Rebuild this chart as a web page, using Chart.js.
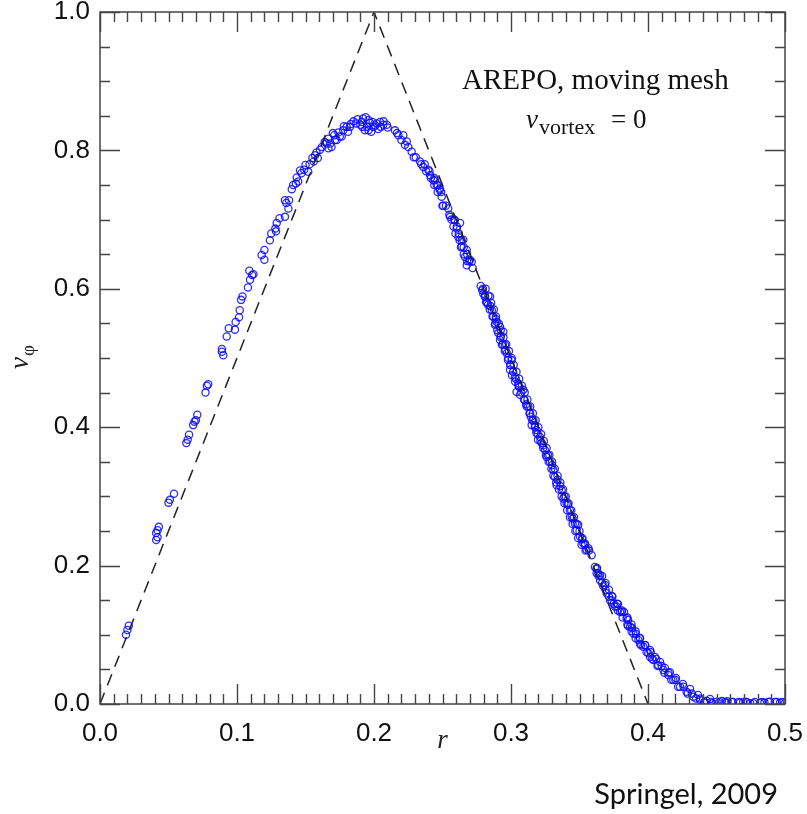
<!DOCTYPE html>
<html>
<head>
<meta charset="utf-8">
<script src="https://cdn.jsdelivr.net/npm/chart.js@4/dist/chart.umd.min.js"></script>
<style>
  html, body { margin: 0; padding: 0; background: #ffffff; }
  #wrap { position: relative; width: 807px; height: 814px; }
  #credit {
    position: absolute; right: 29px; top: 775px;
    font-family: Lato, "Open Sans", sans-serif; font-size: 29px; color: #111;
  }
</style>
</head>
<body>
<div id="wrap">
  <canvas id="vortex-chart" width="807" height="814"></canvas>
  <div id="credit">Springel, 2009</div>
</div>
<script>
// r, v_phi pairs
const risePts = [
  [0.019,0.100],[0.021,0.113],[0.020,0.107],[0.041,0.237],[0.043,0.256],[0.041,0.247],[0.042,0.241],[0.042,0.251],
  [0.050,0.291],[0.054,0.304],[0.051,0.295],[0.063,0.377],[0.065,0.389],[0.064,0.382],[0.068,0.403],[0.071,0.418],
  [0.070,0.410],[0.069,0.408],[0.077,0.450],[0.079,0.462],[0.078,0.460],[0.089,0.513],[0.090,0.504],[0.089,0.509],
  [0.0925,0.531],[0.094,0.543],[0.0985,0.541],[0.099,0.552],[0.1015,0.559],[0.102,0.569],[0.103,0.584],[0.104,0.589],
  [0.108,0.602],[0.1095,0.613],[0.109,0.626],[0.112,0.621],[0.111,0.620],[0.118,0.649],[0.120,0.642],[0.120,0.656],
  [0.124,0.670],[0.125,0.680],[0.128,0.687],[0.129,0.695],[0.131,0.702],[0.135,0.704],[0.1285,0.683],[0.136,0.724],
  [0.1375,0.716],[0.135,0.728],[0.138,0.728],[0.140,0.744],[0.141,0.750],[0.1436,0.761],[0.1447,0.755],[0.147,0.767],
  [0.150,0.779],[0.152,0.769],[0.156,0.784],[0.157,0.793],[0.159,0.789],[0.1606,0.801],[0.1655,0.810],[0.1667,0.817],
  [0.170,0.825],[0.169,0.805],[0.1728,0.815],[0.1764,0.820],[0.180,0.834],[0.1776,0.829],[0.168,0.810],[0.1715,0.815],
  [0.1667,0.803],[0.175,0.820],[0.181,0.827],[0.1825,0.834],
  [0.143,0.752],[0.146,0.771],[0.149,0.772],[0.153,0.780],[0.155,0.789],[0.158,0.797],[0.162,0.805],[0.164,0.812],
  [0.171,0.822],[0.174,0.826],[0.178,0.835],[0.183,0.838],[0.185,0.842]
];
const peakPts = [
  [0.187,0.839],[0.192,0.846],[0.196,0.844],[0.1995,0.834],[0.202,0.839],[0.2044,0.841],[0.2068,0.837],
  [0.2093,0.837],[0.1934,0.829],[0.198,0.827],[0.190,0.837],[0.197,0.840],[0.203,0.831],[0.195,0.834],
  [0.188,0.845],[0.191,0.841],[0.194,0.848],[0.199,0.841],[0.201,0.836],[0.205,0.834],[0.207,0.842],
  [0.210,0.833],[0.1915,0.834],[0.196,0.829]
];
const fallPts = [
  [0.2153,0.829],[0.2178,0.822],[0.220,0.815],[0.2239,0.813],[0.225,0.805],[0.2275,0.798],[0.2214,0.822],[0.2168,0.825],
  [0.2226,0.808],[0.2336,0.784],[0.236,0.776],[0.2396,0.772],[0.241,0.764],[0.2433,0.757],[0.2458,0.750],[0.248,0.745],
  [0.2494,0.733],[0.250,0.720],[0.2445,0.757],[0.248,0.743],[0.2542,0.716],[0.255,0.707],[0.2555,0.704],[0.259,0.699],
  [0.2628,0.695],[0.2604,0.687],[0.2616,0.675],[0.2652,0.671],[0.264,0.661],[0.2677,0.656],[0.2664,0.646],[0.270,0.642],
  [0.2677,0.634],[0.272,0.630],[0.2713,0.639],
  [0.229,0.790],[0.2305,0.790],[0.2345,0.780],[0.237,0.780],[0.238,0.770],[0.2405,0.770],[0.2415,0.760],[0.244,0.760],
  [0.244,0.750],[0.2465,0.750],[0.2465,0.740],[0.249,0.740],[0.2505,0.720],[0.2525,0.720],[0.2565,0.700],[0.2585,0.700],
  [0.258,0.690],[0.2605,0.690],[0.2595,0.680],[0.262,0.680],[0.2625,0.670],[0.264,0.670],[0.2635,0.660],[0.2655,0.660],
  [0.2655,0.650],[0.268,0.650],[0.268,0.640],[0.2695,0.640],
  [0.2779,0.604],[0.2798,0.593],[0.2818,0.581],[0.2847,0.589],[0.286,0.569],[0.2871,0.560],[0.2896,0.552],[0.292,0.545],
  [0.2907,0.536],[0.2944,0.538],[0.292,0.526],[0.2956,0.519],[0.2969,0.507],[0.3005,0.497],[0.2993,0.483],[0.3029,0.473],
  [0.3053,0.463],[0.3041,0.451],[0.309,0.454],[0.310,0.439],[0.3126,0.430],[0.3139,0.420],[0.3163,0.410],[0.3151,0.403],
  [0.3187,0.396],[0.3212,0.386],[0.3175,0.403],[0.3224,0.377],[0.3248,0.367],[0.326,0.357],[0.3285,0.350],[0.3309,0.338],
  [0.332,0.328],[0.3333,0.316],[0.337,0.309],[0.3382,0.297],[0.3406,0.290],[0.343,0.280],[0.3443,0.271],[0.3467,0.261],
  [0.348,0.251],[0.3504,0.242],[0.3528,0.232],[0.3552,0.223],[0.3589,0.215],[0.354,0.232],
  [0.327,0.360],[0.334,0.324],[0.3416,0.288],[0.349,0.259],[0.3234,0.374],[0.3197,0.382],[0.3066,0.447],[0.3007,0.475],
  [0.2978,0.497],[0.2934,0.519],[0.2883,0.548],[0.2832,0.577],[0.330,0.345],[0.336,0.315],[0.339,0.300],[0.345,0.268],
  [0.352,0.238],[0.3565,0.225],[0.3185,0.392],[0.3145,0.415],[0.311,0.433],[0.306,0.458],[0.303,0.466],[0.2995,0.490],
  [0.296,0.512],[0.2925,0.532],[0.289,0.556],[0.285,0.575],[0.281,0.588],[0.279,0.598],
  [0.2795,0.600],[0.2815,0.600],[0.281,0.590],[0.2835,0.590],[0.2825,0.580],[0.2855,0.580],[0.2845,0.570],[0.2875,0.570],
  [0.2865,0.560],[0.289,0.560],[0.2885,0.550],[0.291,0.550],[0.290,0.540],[0.2925,0.540],[0.2925,0.530],[0.2945,0.530],
  [0.294,0.520],[0.2965,0.520],[0.2955,0.510],[0.2985,0.510],[0.298,0.500],[0.3005,0.500],[0.2995,0.490],[0.302,0.490],
  [0.3015,0.480],[0.304,0.480],[0.3035,0.470],[0.306,0.470],[0.3055,0.460],[0.308,0.460],[0.3075,0.450],[0.310,0.450],
  [0.3095,0.440],[0.312,0.440],[0.3115,0.430],[0.314,0.430],[0.3135,0.420],[0.316,0.420],[0.3155,0.410],[0.318,0.410],
  [0.3175,0.400],[0.320,0.400],[0.3195,0.390],[0.322,0.390],[0.3215,0.380],[0.324,0.380],[0.3235,0.370],[0.326,0.370],
  [0.3255,0.360],[0.328,0.360],[0.3275,0.350],[0.330,0.350],[0.3295,0.340],[0.332,0.340],[0.331,0.330],[0.334,0.330],
  [0.333,0.320],[0.336,0.320],[0.335,0.310],[0.338,0.310],[0.337,0.300],[0.340,0.300],[0.339,0.290],[0.342,0.290],
  [0.341,0.280],[0.344,0.280],[0.343,0.270],[0.346,0.270],[0.345,0.260],[0.348,0.260],[0.347,0.250],[0.350,0.250],
  [0.349,0.240],[0.352,0.240],[0.3515,0.230],[0.354,0.230],[0.3545,0.222],[0.357,0.222]
];
const tailPts = [
  [0.3613,0.198],[0.3625,0.189],[0.3637,0.189],[0.365,0.179],[0.3674,0.170],[0.3698,0.160],[0.3723,0.150],[0.3734,0.150],
  [0.3759,0.141],[0.377,0.141],[0.3796,0.133],[0.3808,0.133],[0.3844,0.124],[0.3869,0.112],[0.3893,0.102],[0.393,0.0925],
  [0.3966,0.0828],[0.4002,0.0733],[0.4039,0.0636],[0.4075,0.0564],[0.4112,0.0491],[0.4148,0.0419],[0.4185,0.0347],
  [0.4234,0.025],[0.4282,0.0178],[0.4331,0.0106],[0.438,0.0058],[0.4428,0.0048],[0.450,0.0033],[0.4574,0.0019],
  [0.467,0.0019],[0.4769,0.001],[0.489,0.0033],[0.4964,0.0019],
  [0.3686,0.172],[0.3737,0.156],[0.3781,0.1445],[0.3825,0.1329],[0.3854,0.1214],[0.3883,0.110],[0.3912,0.1012],
  [0.3942,0.0954],[0.3978,0.0853],[0.4015,0.078],[0.4051,0.0679],[0.4088,0.0607],[0.4124,0.052],[0.416,0.046],
  [0.4204,0.0376],[0.4255,0.0289],[0.4307,0.0217],[0.4365,0.013],[0.4453,0.0072],[0.454,0.0043],[0.462,0.0029],
  [0.4715,0.0029],[0.4818,0.0014],[0.4927,0.0029],[0.500,0.0014],[0.365,0.186],[0.3628,0.1965],[0.4015,0.0679],
  [0.3942,0.0867],[0.3854,0.1127],[0.4415,0.002],[0.447,0.001],[0.458,0.004],[0.4745,0.001],[0.485,0.002],[0.4695,0.003],
  [0.3625,0.195],[0.364,0.185],[0.3665,0.185],[0.3665,0.175],[0.369,0.175],[0.369,0.165],[0.3715,0.165],[0.3715,0.155],
  [0.374,0.155],[0.375,0.145],[0.3775,0.145],[0.378,0.135],[0.381,0.135],[0.3815,0.125],[0.385,0.125],[0.385,0.115],
  [0.388,0.115],[0.388,0.105],[0.391,0.105],[0.391,0.095],[0.394,0.095],[0.395,0.085],[0.398,0.085],[0.399,0.075],
  [0.402,0.075],[0.403,0.065],[0.406,0.065],[0.407,0.055],[0.410,0.055],[0.412,0.045],[0.415,0.045],[0.417,0.035],
  [0.420,0.035],[0.422,0.025],[0.426,0.025],[0.429,0.015],[0.432,0.015],[0.435,0.008],[0.438,0.008],
  [0.441,0.003],[0.446,0.003],[0.452,0.003],[0.456,0.003],[0.461,0.003],[0.466,0.003],[0.472,0.003],[0.478,0.003],
  [0.483,0.003],[0.488,0.003],[0.494,0.003],[0.498,0.003]
];

// analytic reference (dashed)
const refR = [0.0, 0.2, 0.4];
const refV = [0.0, 1.0, 0.0];

// axis ticks
const xTickLabels = [0.0, 0.1, 0.2, 0.3, 0.4, 0.5];
const yTickLabels = [0.0, 0.2, 0.4, 0.6, 0.8, 1.0];

function toXY(pts) {
    return pts.map(p => ({x: p[0], y: p[1]}));
}

let scatterData = [].concat(toXY(risePts), toXY(peakPts), toXY(fallPts), toXY(tailPts));
let refData = refR.map((r, i) => ({x: r, y: refV[i]}));

// frame, inward ticks on all four sides, axis titles, labels
const framePlugin = {
    id: 'frame',
    afterDatasetsDraw(chart) {
        const ctx = chart.ctx;
        const a = chart.chartArea;
        const xs = chart.scales.x;
        const ys = chart.scales.y;
        ctx.save();
        ctx.strokeStyle = '#444';
        ctx.lineWidth = 1.5;
        ctx.strokeRect(a.left, a.top, a.right - a.left, a.bottom - a.top);

        ctx.lineWidth = 1.4;
        ctx.beginPath();
        for (let i = 0; i <= 50; i++) {
            let px = Math.round(xs.getPixelForValue(i / 100)) + 0.5;
            let len = (i % 10 === 0) ? 20 : 10;
            ctx.moveTo(px, a.bottom); ctx.lineTo(px, a.bottom - len);
            ctx.moveTo(px, a.top); ctx.lineTo(px, a.top + len);
        }
        for (let i = 0; i <= 20; i++) {
            let py = Math.round(ys.getPixelForValue(i / 20)) + 0.5;
            let len = (i % 4 === 0) ? 20 : 10;
            ctx.moveTo(a.left, py); ctx.lineTo(a.left + len, py);
            ctx.moveTo(a.right, py); ctx.lineTo(a.right - len, py);
        }
        ctx.stroke();

        ctx.fillStyle = '#222';
        // x title
        ctx.font = 'italic 27px "Liberation Serif"';
        ctx.textAlign = 'center';
        ctx.textBaseline = 'alphabetic';
        ctx.fillText('r', (a.left + a.right) / 2, 748);

        // y title, rotated
        ctx.save();
        ctx.translate(28, 369);
        ctx.rotate(-Math.PI / 2);
        ctx.textAlign = 'left';
        ctx.font = 'italic 27px "Liberation Serif"';
        ctx.fillText('v', 0, 0);
        let vw = ctx.measureText('v').width;
        ctx.font = '19px "Liberation Serif"';
        ctx.fillText('\u03c6', vw + 1, 6);
        ctx.restore();

        // annotation
        ctx.fillStyle = '#111';
        ctx.textAlign = 'left';
        ctx.font = '29px "Liberation Serif"';
        ctx.fillText('AREPO, moving mesh', 462, 89);
        ctx.font = 'italic 27px "Liberation Serif"';
        ctx.fillText('v', 526, 128);
        ctx.font = '22px "Liberation Serif"';
        ctx.fillText('vortex', 539, 134);
        ctx.font = '27px "Liberation Serif"';
        ctx.fillText('= 0', 611, 128);
        ctx.restore();
    }
};

const vortexCanvas = document.getElementById('vortex-chart');
const vortexChart = new Chart(vortexCanvas, {
    type: 'scatter',
    data: {
        datasets: [
            {
                label: 'reference',
                type: 'line',
                data: refData,
                borderColor: '#222',
                borderWidth: 1.5,
                borderDash: [12, 8],
                pointRadius: 0,
                fill: false,
                tension: 0
            },
            {
                label: 'AREPO',
                data: scatterData,
                pointStyle: 'circle',
                pointRadius: 3.6,
                borderWidth: 1.3,
                borderColor: 'rgba(10,10,255,0.85)',
                backgroundColor: 'rgba(0,0,0,0)'
            }
        ]
    },
    options: {
        responsive: false,
        animation: false,
        events: [],
        layout: {padding: {top: 12, right: 22, left: 0, bottom: 0}},
        plugins: {
            legend: {display: false},
            tooltip: {enabled: false}
        },
        scales: {
            x: {
                type: 'linear',
                min: 0, max: 0.5,
                grid: {display: false, drawTicks: false},
                border: {display: false},
                ticks: {
                    stepSize: 0.1,
                    autoSkip: false,
                    maxRotation: 0,
                    padding: 14,
                    color: '#111',
                    font: {family: 'Liberation Sans', size: 26},
                    callback: v => xTickLabels.includes(Math.round(v * 10) / 10) ? v.toFixed(1) : ''
                },
                afterFit: s => { s.height = 110; s.paddingLeft = 0; s.paddingRight = 0; }
            },
            y: {
                type: 'linear',
                min: 0, max: 1,
                grid: {display: false, drawTicks: false},
                border: {display: false},
                ticks: {
                    stepSize: 0.2,
                    autoSkip: false,
                    padding: 10,
                    color: '#111',
                    font: {family: 'Liberation Sans', size: 26},
                    callback: v => yTickLabels.includes(Math.round(v * 10) / 10) ? v.toFixed(1) : ''
                },
                afterFit: s => { s.width = 100; s.paddingTop = 0; s.paddingBottom = 0; }
            }
        }
    },
    plugins: [framePlugin]
});
</script>
</body>
</html>
